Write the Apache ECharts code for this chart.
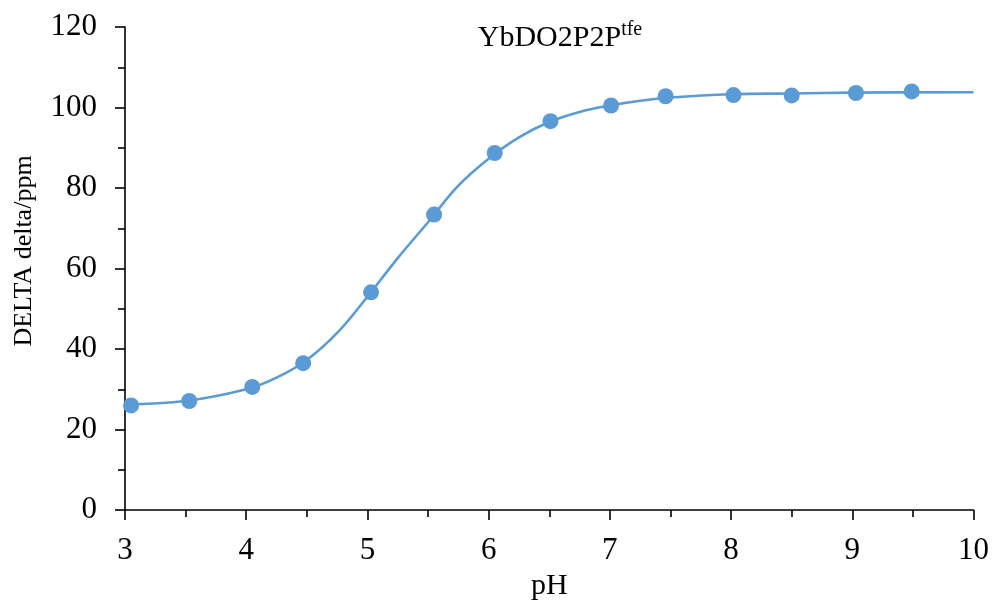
<!DOCTYPE html>
<html>
<head>
<meta charset="utf-8">
<script src="https://cdn.jsdelivr.net/npm/echarts@6/dist/echarts.min.js"></script>
<style>
html,body{margin:0;padding:0;background:#fff;overflow:hidden;}
#chart{width:992px;height:606px;}
</style>
</head>
<body>
<div id="chart"></div>
<script>
// Measured data points (pH, delta/ppm)
const phPoints    = [3.05, 3.53, 4.05, 4.47, 5.03, 5.55, 6.05, 6.51, 7.01, 7.46, 8.02, 8.50, 9.03, 9.49];
const deltaPoints = [26.0, 27.1, 30.6, 36.5, 54.1, 73.4, 88.7, 96.6, 100.5, 102.8, 103.1, 103.0, 103.6, 104.0];

// Fitted curve
const curvePh    = [3.0, 3.5, 4.0, 4.25, 4.5, 4.75, 5.0, 5.25, 5.5, 5.75, 6.0, 6.25, 6.5, 6.75, 7.0, 7.25, 7.5, 8.0, 8.5, 9.0, 10.0];
const curveDelta = [26.3, 27.1, 30.0, 32.9, 37.3, 44.0, 53.0, 62.6, 71.5, 80.6, 87.3, 92.6, 96.4, 98.9, 100.5, 101.7, 102.5, 103.3, 103.5, 103.7, 103.8];

// Axis ticks
const xTicks = [3, 4, 5, 6, 7, 8, 9, 10];
const yTicks = [0, 20, 40, 60, 80, 100, 120];

const titleMain = 'YbDO2P2P';
const titleSup = 'tfe';
const xName = 'pH';
const yName = 'DELTA delta/ppm';

const FONT = '"Liberation Serif", "Times New Roman", serif';
const BLUE = '#5B9BD5';

const chart = echarts.init(document.getElementById('chart'));
const axisCommon = {
  axisLine: {show: true, lineStyle: {color: '#000', width: 1.6}},
  axisTick: {show: true, inside: false, length: 10, lineStyle: {color: '#000', width: 1.6}},
  minorTick: {show: true, splitNumber: 2, length: 7, lineStyle: {color: '#000', width: 1.6}},
  splitLine: {show: false},
  axisLabel: {color: '#000', fontFamily: FONT, fontSize: 31}
};
chart.setOption({
  animation: false,
  backgroundColor: '#fff',
  grid: {left: 125, right: 18, top: 27, bottom: 92},
  title: {
    text: '{m|' + titleMain + '}{s|' + titleSup + '}',
    left: 555, top: 15, textAlign: 'center',
    textStyle: {
      fontWeight: 'normal',
      rich: {
        m: {fontFamily: FONT, fontSize: 30, fontWeight: 'normal', color: '#000', lineHeight: 36},
        s: {fontFamily: FONT, fontSize: 20, fontWeight: 'normal', color: '#000', verticalAlign: 'top', lineHeight: 36, padding: [0,0,10,0]}
      }
    }
  },
  xAxis: Object.assign({}, axisCommon, {
    type: 'value', min: xTicks[0], max: xTicks[xTicks.length - 1], interval: 1,
    name: xName, nameLocation: 'middle', nameGap: 60,
    nameTextStyle: {color: '#000', fontFamily: FONT, fontSize: 30},
    axisLabel: Object.assign({}, axisCommon.axisLabel, {margin: 25})
  }),
  yAxis: Object.assign({}, axisCommon, {
    type: 'value', min: yTicks[0], max: yTicks[yTicks.length - 1], interval: 20,
    axisLabel: Object.assign({}, axisCommon.axisLabel, {margin: 28})
  }),
  graphic: [{
    type: 'text', x: 24, y: 251, rotation: Math.PI / 2,
    style: {text: yName, fill: '#000', font: '26px ' + FONT, textAlign: 'center', textVerticalAlign: 'middle'}
  }],
  series: [{
    type: 'line',
    data: curvePh.map((x, i) => [x, curveDelta[i]]),
    smooth: 0.4, showSymbol: false,
    lineStyle: {color: BLUE, width: 2.6},
    z: 2
  }, {
    type: 'scatter',
    data: phPoints.map((x, i) => [x, deltaPoints[i]]),
    symbol: 'circle', symbolSize: 16,
    itemStyle: {color: BLUE, opacity: 1},
    z: 3
  }]
});
</script>
</body>
</html>
